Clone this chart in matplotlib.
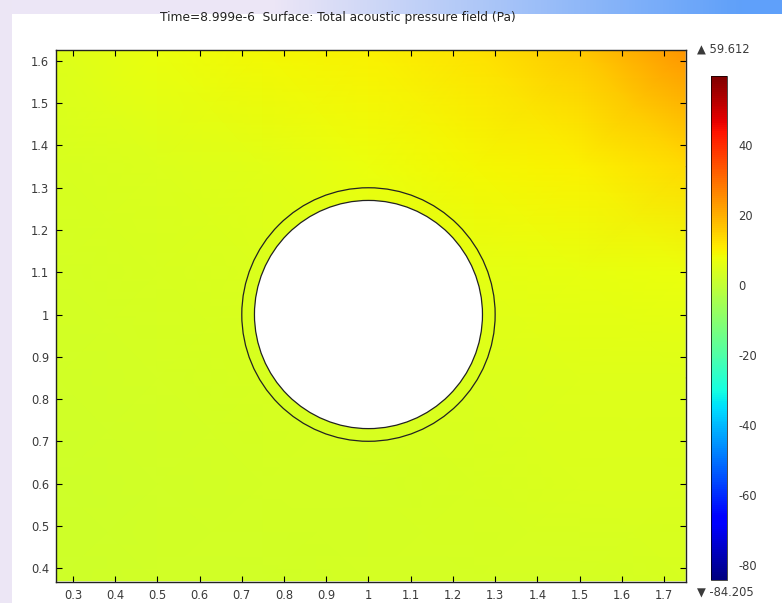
import numpy as np
import matplotlib
matplotlib.use("Agg")
import matplotlib.pyplot as plt
from matplotlib.patches import Circle

plt.rcParams["axes.unicode_minus"] = False

# pressure field (Pa), rows from bottom to top
grid_x = [0.26, 0.5, 0.75, 1.0, 1.25, 1.5, 1.75]
grid_y = [0.37, 0.6, 0.85, 1.1, 1.35, 1.63]
pressure = [
    [2.0, 2.5, 2.5, 3.0, 3.0, 3.0, 3.5],
    [2.0, 2.5, 3.0, 3.0, 3.5, 4.0, 4.0],
    [2.5, 3.0, 3.5, 4.0, 4.5, 5.0, 5.0],
    [3.0, 3.5, 4.0, 5.0, 6.0, 6.5, 7.0],
    [3.5, 4.5, 5.5, 7.0, 8.5, 10.0, 13.0],
    [5.0, 7.0, 9.0, 10.0, 12.0, 16.0, 24.0],
]
p_min, p_max = -84.205, 59.612

# geometry: cylinder with shell
center = (1.0, 1.0)
r_outer = 0.30
r_inner = 0.27

x_ticks = [0.3, 0.4, 0.5, 0.6, 0.7, 0.8, 0.9, 1.0, 1.1, 1.2, 1.3, 1.4, 1.5, 1.6, 1.7]
x_labels = ["0.3", "0.4", "0.5", "0.6", "0.7", "0.8", "0.9", "1", "1.1", "1.2", "1.3", "1.4", "1.5", "1.6", "1.7"]
y_ticks = [0.4, 0.5, 0.6, 0.7, 0.8, 0.9, 1.0, 1.1, 1.2, 1.3, 1.4, 1.5, 1.6]
y_labels = ["0.4", "0.5", "0.6", "0.7", "0.8", "0.9", "1", "1.1", "1.2", "1.3", "1.4", "1.5", "1.6"]
cb_ticks = [-80, -60, -40, -20, 0, 20, 40]

title = "Time=8.999e-6  Surface: Total acoustic pressure field (Pa)"
txt_col = "#3a3a3a"

fig = plt.figure(figsize=(7.82, 6.03), dpi=100)

# slide background (lavender strip left, gradient strip on top)
bg = fig.add_axes([0, 0, 1, 1], zorder=-10)
bg.set_xlim(0, 782)
bg.set_ylim(603, 0)
bg.axis("off")
bg.add_patch(plt.Rectangle((0, 0), 12, 603, color="#ece6f5", lw=0))
t = np.linspace(0, 1, 256)
lav = np.array([236, 230, 246]) / 255
blue = np.array([95, 160, 250]) / 255
w = np.clip((t - 0.35) / 0.6, 0, 1)[:, None]
strip = (lav * (1 - w) + blue * w)[None, :, :]
bg.imshow(strip, extent=(0, 782, 14, 0), aspect="auto")
bg.add_patch(plt.Rectangle((12, 14), 770, 589, color="white", lw=0))

# main plot
ax = fig.add_axes([56 / 782, 1 - 582 / 603, 630 / 782, 532 / 603])
mesh = ax.pcolormesh(grid_x, grid_y, np.array(pressure), shading="gouraud",
                     cmap="jet", vmin=p_min, vmax=p_max)
ax.add_patch(Circle(center, r_outer, fill=False, ec="#222222", lw=0.9, zorder=3))
ax.add_patch(Circle(center, r_inner, fc="white", ec="#222222", lw=0.9, zorder=3))
ax.set_xlim(0.26, 1.752)
ax.set_ylim(0.367, 1.626)
ax.set_xticks(x_ticks)
ax.set_xticklabels(x_labels)
ax.set_yticks(y_ticks)
ax.set_yticklabels(y_labels)
ax.tick_params(direction="in", top=True, right=True, length=4, width=0.8,
               labelsize=8.3, labelcolor=txt_col, pad=5)
for s in ax.spines.values():
    s.set_linewidth(1.0)
    s.set_color("#222222")

fig.text(160 / 782, 1 - 17 / 603, title, fontsize=8.8, color="#222222",
         ha="left", va="center")

# colorbar
cax = fig.add_axes([711 / 782, 1 - 580 / 603, 16 / 782, 504 / 603])
cb = fig.colorbar(mesh, cax=cax, ticks=cb_ticks)
cb.outline.set_linewidth(0.5)
cb.ax.tick_params(length=0, labelsize=8.3, labelcolor=txt_col, pad=8)
fig.text(697 / 782, 1 - 49 / 603, "\u25b2 %.3f" % p_max, fontsize=8.3,
         color=txt_col, ha="left", va="center")
fig.text(697 / 782, 1 - 592 / 603, "\u25bc %.3f" % p_min, fontsize=8.3,
         color=txt_col, ha="left", va="center")

fig.savefig("out.png", dpi=100)
